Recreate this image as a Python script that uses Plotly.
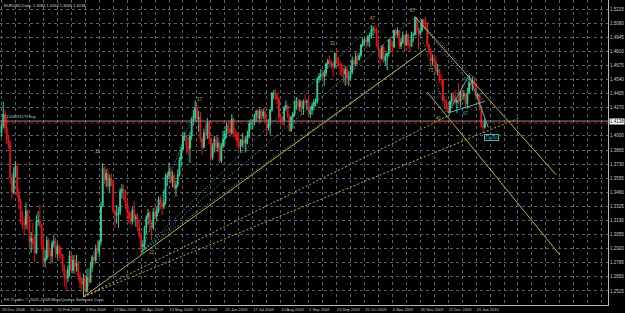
import plotly.graph_objects as go
import pandas as pd

# ---------------- data (EURUSD daily, pips*1e4) ----------------
O = [14030,14100,14210,14080,13960,13920,13600,13460,13640,13710,
     13440,13370,13190,13170,13150,13280,13180,12990,13020,12970,
     12880,13180,13190,13150,12950,12800,12830,13000,12870,12850,
     12970,12990,12870,12940,12870,12860,12740,12650,12640,12720,
     12850,12710,12810,12750,12780,12660,12600,12580,12640,12510,
     12650,12600,12740,12840,12810,12920,12890,12990,13330,13690,
     13580,13640,13520,13590,13570,13280,13240,13250,13270,13470,
     13490,13470,13360,13270,13210,13180,13290,13210,13220,13130,
     13040,12940,12960,13120,13220,13260,13160,13120,13270,13230,
     13280,13390,13350,13320,13370,13590,13620,13660,13560,13620,
     13500,13530,13630,13770,13870,14000,14000,13900,13880,14000,
     14150,14170,14270,14160,14180,13970,13890,14030,14010,14130,
     13980,13790,13900,13970,13890,13930,13760,13900,13970,14020,
     14100,14070,14030,14160,14040,14020,13950,13900,13910,13960,
     13930,13970,14000,14120,14120,14120,14200,14240,14170,14240,
     14190,14230,14160,14080,14110,14250,14410,14410,14380,14350,
     14180,14150,14150,14270,14290,14190,14050,14180,14210,14330,
     14330,14280,14330,14260,14330,14320,14330,14210,14250,14290,
     14320,14330,14550,14570,14590,14570,14600,14690,14720,14710,
     14690,14660,14790,14730,14680,14680,14620,14590,14640,14550,
     14560,14610,14720,14690,14760,14730,14770,14870,14910,14920,
     14900,14950,14960,15020,15020,15010,14860,14830,14740,14850,
     14720,14760,14790,14920,14860,14850,15010,14970,15010,14860,
     14900,14960,14870,14970,14870,14860,14970,14970,15130,15010,
     14980,15010,15110,15070,15060,14870,14810,14720,14740,14710,
     14620,14630,14540,14540,14340,14330,14280,14230,14330,14390,
     14370,14320,14340,14330,14420,14380,14400,14310,14410,14510,
     14490,14530,14500,14380,14390,14280,14100,14082]
H = [14130,14330,14250,14180,14000,13960,13640,13700,13760,13740,
     13500,13400,13280,13230,13360,13300,13210,13080,13170,13060,
     13240,13280,13340,13160,13040,12910,13040,13020,12910,13000,
     13050,13020,12970,12960,12940,12870,12770,12710,12760,12900,
     12900,12860,12860,12860,12800,12700,12650,12680,12670,12730,
     12730,12790,12860,12890,12960,13000,13010,13370,13740,13710,
     13680,13690,13630,13640,13580,13300,13340,13320,13500,13540,
     13530,13480,13380,13310,13270,13320,13380,13250,13260,13190,
     13080,13000,13140,13240,13300,13280,13180,13310,13350,13320,
     13420,13430,13400,13480,13640,13650,13740,13700,13660,13640,
     13570,13680,13800,13900,14040,14040,14010,13990,14040,14180,
     14250,14340,14300,14240,14230,13990,14070,14110,14170,14140,
     13990,13930,14000,14000,13990,13950,13930,14050,14060,14130,
     14140,14150,14210,14180,14070,14040,14020,13970,14030,14010,
     14000,14050,14150,14160,14160,14210,14250,14260,14260,14260,
     14260,14270,14180,14160,14260,14420,14440,14450,14400,14370,
     14200,14190,14290,14340,14300,14200,14190,14230,14340,14370,
     14360,14350,14340,14350,14400,14350,14390,14280,14320,14350,
     14360,14560,14600,14640,14630,14630,14700,14740,14770,14730,
     14710,14800,14830,14750,14720,14700,14650,14670,14670,14620,
     14670,14760,14740,14800,14790,14800,14880,14940,14940,14950,
     14970,14990,15060,15050,15060,15040,14920,14840,14870,14880,
     14790,14800,14930,14940,14910,15020,15030,15040,15010,14940,
     15000,14970,14990,14980,14920,15000,14990,15140,15140,15030,
     15040,15120,15120,15140,15090,14890,14840,14780,14780,14760,
     14690,14640,14590,14550,14380,14350,14310,14340,14410,14420,
     14440,14360,14510,14440,14480,14440,14410,14460,14580,14560,
     14570,14570,14510,14410,14400,14290,14140,14164]
L = [13990,14070,14030,13920,13880,13540,13400,13440,13600,13410,
     13300,13150,13110,13050,13110,13100,12930,12880,12910,12790,
     12870,13140,13120,12910,12760,12740,12810,12840,12770,12780,
     12930,12830,12830,12800,12820,12700,12560,12510,12600,12650,
     12690,12680,12680,12700,12620,12540,12510,12460,12490,12500,
     12560,12590,12700,12760,12780,12870,12840,12950,13320,13540,
     13510,13480,13460,13520,13260,13120,13160,13120,13240,13400,
     13380,13300,13200,13160,13150,13150,13190,13130,13090,13020,
     12890,12880,12910,13060,13150,13080,13000,13100,13200,13180,
     13260,13300,13240,13300,13340,13520,13590,13540,13510,13480,
     13420,13510,13610,13700,13860,13950,13830,13810,13740,13960,
     14100,14140,14130,14040,13940,13820,13880,13960,13970,13920,
     13760,13770,13840,13840,13850,13740,13740,13880,13920,13980,
     14020,13990,14010,13990,13960,13890,13870,13840,13890,13870,
     13840,13920,13980,14060,14060,14100,14130,14130,14120,14130,
     14160,14130,14010,14050,14010,14230,14350,14340,14300,14150,
     14100,14100,14100,14240,14170,14040,14040,14070,14190,14250,
     14240,14230,14200,14200,14290,14250,14180,14170,14200,14240,
     14280,14310,14510,14530,14540,14480,14570,14650,14680,14640,
     14570,14640,14690,14650,14580,14570,14510,14480,14490,14480,
     14530,14590,14630,14670,14680,14720,14750,14850,14860,14840,
     14860,14850,14930,14960,14980,14850,14780,14680,14730,14700,
     14680,14630,14760,14800,14790,14840,14940,14950,14830,14830,
     14880,14810,14860,14840,14800,14850,14900,14960,14960,14830,
     14960,14990,15030,15020,14850,14780,14660,14680,14680,14590,
     14580,14510,14480,14330,14260,14250,14220,14210,14300,14320,
     14300,14220,14300,14270,14340,14340,14260,14260,14410,14440,
     14430,14470,14340,14350,14250,14080,14030,14069]
C = [14100,14210,14080,13960,13920,13600,13460,13640,13710,13440,
     13370,13190,13170,13150,13280,13180,12990,13020,12970,12880,
     13180,13190,13150,12950,12800,12830,13000,12870,12850,12970,
     12990,12870,12940,12870,12860,12740,12650,12640,12720,12850,
     12710,12810,12750,12780,12660,12600,12580,12640,12510,12650,
     12600,12740,12840,12810,12920,12890,12990,13330,13690,13580,
     13640,13520,13590,13570,13280,13240,13250,13270,13470,13490,
     13470,13360,13270,13210,13180,13290,13210,13220,13130,13040,
     12940,12960,13120,13220,13260,13160,13120,13270,13230,13280,
     13390,13350,13320,13370,13590,13620,13660,13560,13620,13500,
     13530,13630,13770,13870,14000,14000,13900,13880,14000,14150,
     14170,14270,14160,14180,13970,13890,14030,14010,14130,13980,
     13790,13900,13970,13890,13930,13760,13900,13970,14020,14100,
     14070,14030,14160,14040,14020,13950,13900,13910,13960,13930,
     13970,14000,14120,14120,14120,14200,14240,14170,14240,14190,
     14230,14160,14080,14110,14250,14410,14410,14380,14350,14180,
     14150,14150,14270,14290,14190,14050,14180,14210,14330,14330,
     14280,14330,14260,14330,14320,14330,14210,14250,14290,14320,
     14330,14550,14570,14590,14570,14600,14690,14720,14710,14690,
     14660,14790,14730,14680,14680,14620,14590,14640,14550,14560,
     14610,14720,14690,14760,14730,14770,14870,14910,14920,14900,
     14950,14960,15020,15020,15010,14860,14830,14740,14850,14720,
     14760,14790,14920,14860,14850,15010,14970,15010,14860,14900,
     14960,14870,14970,14870,14860,14970,14970,15130,15010,14980,
     15010,15110,15070,15060,14870,14810,14720,14740,14710,14620,
     14630,14540,14540,14340,14330,14280,14230,14330,14390,14370,
     14320,14340,14330,14420,14380,14400,14310,14410,14510,14490,
     14530,14500,14380,14390,14280,14100,14082,14138]

date_labels = ["26 Dec 2008", "20 Jan 2009", "11 Feb 2009", "5 Mar 2009", "27 Mar 2009",
               "20 Apr 2009", "12 May 2009", "3 Jun 2009", "25 Jun 2009", "17 Jul 2009",
               "10 Aug 2009", "1 Sep 2009", "23 Sep 2009", "15 Oct 2009", "6 Nov 2009",
               "30 Nov 2009", "22 Dec 2009", "15 Jan 2010"]
price_ticks = [1.5215, 1.5080, 1.4945, 1.4810, 1.4675, 1.4540, 1.4405, 1.4270,
               1.4000, 1.3865, 1.3730, 1.3595, 1.3460, 1.3325, 1.3190, 1.3055,
               1.2920, 1.2785, 1.2650, 1.2515, 1.2380]
last_price = 1.4138

# trend line anchors: (bar index, price, bar index, price)
yellow_solid = [(47, 1.2460, 243, 1.4830),
                (237, 1.5140, 318, 1.3626),
                (244, 1.4420, 320, 1.2860)]
yellow_dot = [(47, 1.2460, 257, 1.4200),
              (47, 1.2460, 297, 1.4174)]
cyan_dot = [(80, 1.2889, 112, 1.4300),
            (80, 1.2889, 212, 1.5060),
            (80, 1.2889, 237, 1.5140),
            (80, 1.2889, 243, 1.4830),
            (237, 1.5140, 270, 1.4564),
            (237, 1.5140, 276, 1.4344),
            (237, 1.5140, 255, 1.4219)]
cyan_solid = [(256, 1.4220, 268, 1.4580),
              (256, 1.4220, 277, 1.4330),
              (268, 1.4580, 279, 1.4080)]
wave_labels = [(55, 1.3846, "11"), (86, 1.2888, "21"), (114, 1.4344, "17"),
               (190, 1.4880, "31"), (213, 1.5120, "47"), (236, 1.5196, "87"),
               (246, 1.4631, "77"), (251, 1.4171, "41")]
cyan_labels = [(266, 1.4219, "67")]
box_label = (281, 1.3985, "1.4030")
order_price = 1.4142
stop_price = 1.4123

# ---------------- figure ----------------
dates = [d for d in pd.bdate_range("2008-12-26", "2010-01-22")
         if not ((d.month == 12 and d.day == 25) or (d.month == 1 and d.day == 1))]
N = min(len(dates), len(C))
xs = list(range(N))
fmt = [f"{d.day} {d.strftime('%b %Y')}" for d in dates]
label_pos = {fmt[i]: i for i in range(N)}

UP = "#2fd19b"
DN = "#e3161c"
YEL = "#bdb13a"
CYA = "#3fb8b8"
FONT = "Liberation Sans"

fig = go.Figure()
fig.add_trace(go.Candlestick(
    x=xs, open=[v / 1e4 for v in O[:N]], high=[v / 1e4 for v in H[:N]],
    low=[v / 1e4 for v in L[:N]], close=[v / 1e4 for v in C[:N]],
    increasing=dict(line=dict(color=UP, width=1), fillcolor=UP),
    decreasing=dict(line=dict(color=DN, width=1), fillcolor=DN),
    whiskerwidth=0, showlegend=False, hoverinfo="skip"))

def add_lines(segs, color, dash, width=1):
    for x0, p0, x1, p1 in segs:
        fig.add_trace(go.Scatter(x=[x0, x1], y=[p0, p1], mode="lines",
                                 line=dict(color=color, width=width, dash=dash),
                                 showlegend=False, hoverinfo="skip"))

add_lines(yellow_solid, YEL, "solid")
add_lines(yellow_dot, YEL, "2px,2px")
add_lines(cyan_dot, CYA, "1px,2px")
add_lines(cyan_solid, CYA, "solid")

for xi, p, t in wave_labels:
    fig.add_annotation(x=xi, y=p, text=t, showarrow=False,
                       font=dict(family=FONT, size=4.5, color=YEL))
for xi, p, t in cyan_labels:
    fig.add_annotation(x=xi, y=p, text=t, showarrow=False,
                       font=dict(family=FONT, size=4.5, color=CYA))
fig.add_annotation(x=box_label[0], y=box_label[1], text=box_label[2], showarrow=False,
                   bordercolor=CYA, borderwidth=1, borderpad=0,
                   font=dict(family=FONT, size=4, color=CYA))

# order / stop lines
fig.add_hline(y=order_price, line=dict(color="#8a8a8a", width=1))
fig.add_hline(y=stop_price, line=dict(color="#d01010", width=1, dash="3px,3px"))
fig.add_annotation(xref="paper", x=0.004, y=order_price, yanchor="bottom", xanchor="left",
                   text="#1506191179 buy", showarrow=False,
                   font=dict(family=FONT, size=4, color="#c8c8c8"))

# x ticks every 8 bars, labelled every 16
grid_vals = list(range(0, 352, 8))
label_idx = {label_pos[s]: s for s in date_labels if s in label_pos}
grid_text = [label_idx.get(v, "") for v in grid_vals]

fig.update_layout(
    width=625, height=313,
    margin=dict(l=0, r=17, t=0, b=8),
    paper_bgcolor="#000000", plot_bgcolor="#000000",
    font=dict(family=FONT, color="#c8c8c8"),
    xaxis=dict(range=[-0.86, 347.6], tickmode="array", tickvals=grid_vals, ticktext=grid_text,
               showgrid=True, gridcolor="#56616c", griddash="dot", gridwidth=1,
               zeroline=False, showline=True, linecolor="#b8b8b8", linewidth=1,
               ticks="", tickangle=0, tickfont=dict(size=4, color="#c8c8c8"),
               ticklabelposition="outside right", rangeslider=dict(visible=False),
               fixedrange=True),
    yaxis=dict(range=[1.23809, 1.53012], side="right", tickmode="array",
               tickvals=price_ticks, ticktext=[f"{v:.4f}" for v in price_ticks],
               showgrid=True, gridcolor="#56616c", griddash="dot", gridwidth=1,
               zeroline=False, showline=True, linecolor="#b8b8b8", linewidth=1,
               ticks="", tickfont=dict(size=4.5, color="#c8c8c8"), fixedrange=True),
)

# current price label
fig.add_annotation(xref="paper", x=1, xanchor="left", xshift=1, y=last_price,
                   text=f"{last_price:.4f}", showarrow=False, bgcolor="#ffffff",
                   borderpad=0, font=dict(family=FONT, size=4.5, color="#000000"))

# header and copyright
fig.add_annotation(xref="paper", yref="paper", x=0.004, y=1, xanchor="left", yanchor="top",
                   yshift=-1, showarrow=False,
                   text=f"EURUSD,Daily  {O[N-1]/1e4:.4f} {H[N-1]/1e4:.4f} {L[N-1]/1e4:.4f} {C[N-1]/1e4:.4f}",
                   font=dict(family=FONT, size=4, color="#d8d8d8"))
fig.add_annotation(xref="paper", yref="paper", x=0.004, y=0, xanchor="left", yanchor="bottom",
                   yshift=1, showarrow=False,
                   text="FX Trader, © 2001-2009 MetaQuotes Software Corp.",
                   font=dict(family=FONT, size=4.3, color="#c8c8c8"))

fig.write_html("out.html")
